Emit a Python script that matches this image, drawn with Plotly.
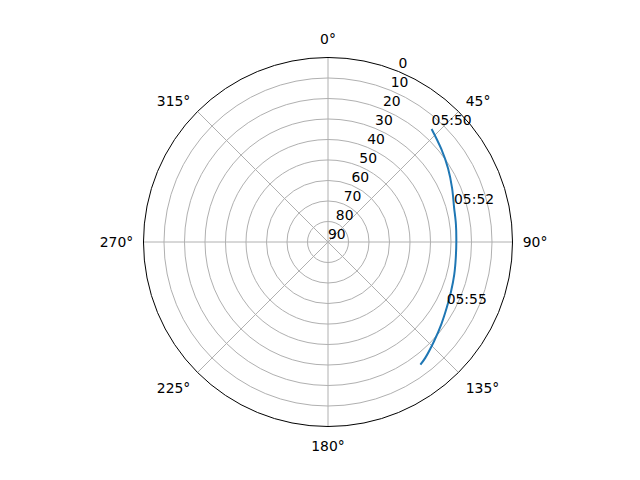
import plotly.graph_objects as go

# satellite pass: time, azimuth (deg), elevation (deg)
times = ["05:50", "05:50:30", "05:51", "05:51:30", "05:52", "05:52:30", "05:53", "05:53:30",
         "05:54", "05:54:30", "05:55", "05:55:30", "05:56", "05:56:30", "05:56:40"]
azimuth = [42.5, 50.6, 58.5, 66.5, 74.5, 82.0, 89.5, 97.0, 104.5, 112.0, 119.0, 126.0, 133.0, 140.0, 143.0]
elevation = [15.2, 18.5, 21.3, 24.0, 26.2, 27.0, 27.4, 27.2, 26.4, 25.3, 23.8, 21.7, 19.2, 16.2, 15.1]

label_times = ["05:50", "05:52", "05:55"]

# elevation rings (0 at the rim, 90 at the centre)
elev_ticks = [0, 10, 20, 30, 40, 50, 60, 70, 80, 90]
az_ticks = [0, 45, 90, 135, 180, 225, 270, 315]
rlabel_angle = 22.5

r_vals = [90 - e for e in elevation]
lab_idx = [times.index(t) for t in label_times]

fig = go.Figure()
fig.add_trace(go.Scatterpolar(
    r=r_vals, theta=azimuth, mode="lines", line_shape="spline",
    line=dict(color="#1f77b4", width=2), showlegend=False,
))
fig.add_trace(go.Scatterpolar(
    r=[r_vals[i] for i in lab_idx], theta=[azimuth[i] for i in lab_idx],
    mode="text", text=label_times, textposition="top right",
    showlegend=False, cliponaxis=False,
))
# radial tick labels
fig.add_trace(go.Scatterpolar(
    r=[90 - e for e in elev_ticks], theta=[rlabel_angle] * len(elev_ticks),
    mode="text", text=[str(e) for e in elev_ticks], textposition="top right",
    showlegend=False, cliponaxis=False,
))

fig.update_layout(
    width=640, height=480,
    margin=dict(l=0, r=0, t=0, b=0),
    paper_bgcolor="white",
    font=dict(family="DejaVu Sans", size=13.9, color="black"),
    polar=dict(
        domain=dict(x=[0.2117, 0.7883], y=[0.1281, 0.8969]),
        bgcolor="white",
        angularaxis=dict(
            rotation=90, direction="clockwise",
            tickmode="array", tickvals=az_ticks,
            ticktext=[f"{a}°" for a in az_ticks],
            showgrid=True, gridcolor="#b0b0b0", gridwidth=1,
            showline=True, linecolor="black", linewidth=1,
            ticks="outside", ticklen=7, tickcolor="rgba(0,0,0,0)",
        ),
        radialaxis=dict(
            range=[0, 90],
            tickmode="array", tickvals=[90 - e for e in elev_ticks],
            showticklabels=False,
            showgrid=True, gridcolor="#b0b0b0", gridwidth=1,
            showline=False, ticks="",
        ),
    ),
)

fig.write_html("out.html")
